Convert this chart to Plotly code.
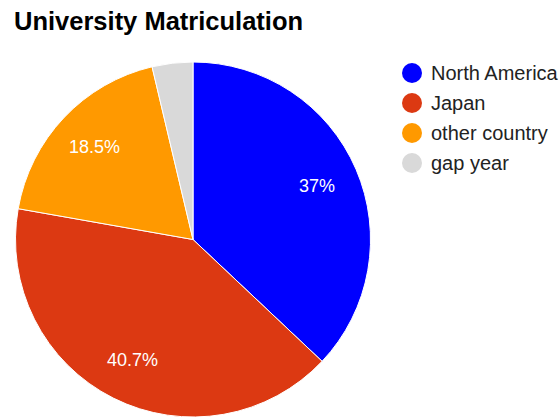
import math
import plotly.graph_objects as go

categories = ["North America", "Japan", "other country", "gap year"]
values = [10, 11, 5, 1]
colors = ["#0000ff", "#dc3912", "#ff9900", "#d9d9d9"]
title_text = "University Matriculation"

W, H = 559, 417
total = sum(values)


def fmt_pct(v):
    p = round(v / total * 100, 1)
    s = f"{p:.1f}".rstrip("0").rstrip(".")
    return s + "%"


# pie geometry in reference pixels
left, right, top, bottom = 14, 372, 62, 417
px = lambda x: x / W
py = lambda y: 1 - y / H

fig = go.Figure()
fig.add_trace(go.Pie(
    labels=categories,
    values=values,
    textinfo="none",
    sort=False,
    direction="clockwise",
    rotation=0,
    marker=dict(colors=colors, line=dict(color="white", width=1)),
    showlegend=False,
    hoverinfo="label+percent",
    domain=dict(x=[px(left), px(right)], y=[max(0, py(bottom)), py(top)]),
))

shapes = []
annotations = []

# slice labels at 0.76 of the radius, mid-angle (as the reference places them)
R = min(right - left, bottom - top) / 2
cxp = (left + right) / 2
cyp = (top + bottom) / 2
cum = 0
for v in values:
    frac = v / total
    mid = (cum + frac / 2) * 2 * math.pi
    cum += frac
    if frac < 0.05:
        continue
    lx = cxp + 0.76 * R * math.sin(mid)
    ly = cyp - 0.76 * R * math.cos(mid)
    annotations.append(dict(
        text=fmt_pct(v), xref="paper", yref="paper",
        x=px(lx), y=py(ly), xanchor="center", yanchor="middle",
        showarrow=False,
        font=dict(family="Liberation Sans, Arial", size=18, color="white"),
    ))

for i, (name, col) in enumerate(zip(categories, colors)):
    cy = 73 + 30 * i
    cx = 412
    r = 10
    shapes.append(dict(
        type="circle", xref="paper", yref="paper",
        x0=px(cx - r), x1=px(cx + r),
        y0=py(cy + r), y1=py(cy - r),
        fillcolor=col, line=dict(width=0),
    ))
    annotations.append(dict(
        text=name, xref="paper", yref="paper",
        x=px(429), y=py(cy), xanchor="left", yanchor="middle",
        showarrow=False,
        font=dict(family="Liberation Sans, Arial", size=20, color="#222222"),
    ))

fig.update_layout(
    width=W, height=H,
    margin=dict(l=0, r=0, t=0, b=0),
    paper_bgcolor="white",
    plot_bgcolor="white",
    shapes=shapes,
    annotations=annotations,
    title=dict(
        text="<b>" + title_text + "</b>",
        x=px(14), xref="container", xanchor="left",
        y=py(21), yref="container", yanchor="middle",
        font=dict(family="Liberation Sans, Arial", size=25.5, color="#000000"),
    ),
)

fig.write_html(
    "out.html",
    config={"displayModeBar": False},
    post_script="document.body.style.margin='0';document.body.style.overflow='hidden';",
)
